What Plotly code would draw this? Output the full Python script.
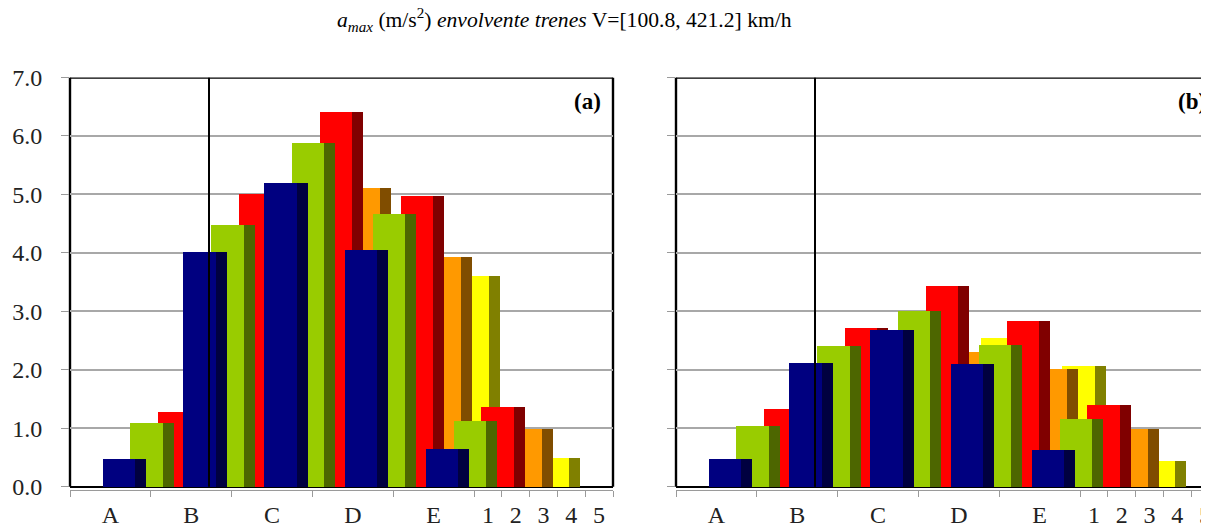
import numpy as np
import plotly.graph_objects as go

# ---------------- data ----------------
categories = ["A", "B", "C", "D", "E"]
series_labels = ["1", "2", "3", "4", "5"]

# panel (a)
a_s1 = [0.48, 4.02, 5.21, 4.06, 0.66]
a_s2 = [1.09, 4.48, 5.88, 4.67, 1.13]
a_s3 = [1.28, 5.02, 6.42, 4.99, 1.38]
a_s4 = [0.95, 3.90, 5.11, 3.93, 1.00]
a_s5 = [0.60, 3.50, 4.40, 3.61, 0.50]

# panel (b)
b_s1 = [0.48, 2.12, 2.69, 2.10, 0.63]
b_s2 = [1.04, 2.41, 3.01, 2.44, 1.17]
b_s3 = [1.34, 2.73, 3.44, 2.84, 1.40]
b_s4 = [1.00, 2.10, 2.31, 2.03, 1.00]
b_s5 = [0.60, 1.90, 2.56, 2.08, 0.44]

y_ticks = [0, 1, 2, 3, 4, 5, 6, 7]

front_colors = ["#000080", "#99CC00", "#FF0000", "#FF9900", "#FFFF00"]
side_colors = ["#000040", "#4D6600", "#800000", "#804D00", "#808000"]

# ---------------- geometry of the pseudo-3D (oblique) projection ----------------
W, H = 1209, 525
OFF = 8                        # default body margin of the page
cat_px = 80.8
depth_px = 27.8
d = depth_px / cat_px          # depth step per series, in category units
gap = 1.5                      # Excel gap width 150%
w = 1.0 / (1.0 + gap)          # front face width
s = d / (1.0 + gap)            # side face (depth) width
n_cat = len(categories)
n_ser = len(series_labels)
x_end_full = n_cat + n_ser * d

px_per_unit_y = 58.46
y_top_px, y0_px = 77.5 - OFF, 486.7 - OFF
axis_drop = 3.2
y_low = -axis_drop / px_per_unit_y   # gray axis line sits a little below the floor

a_left = 70 - OFF
a_right = a_left + x_end_full * cat_px
b_left = 676 - OFF
b_range_end = (W - b_left) / cat_px

ydom = [1 - (y0_px + axis_drop) / H, 1 - y_top_px / H]

fig = go.Figure()

def add_panel(xa, ya, data):
    ci = np.arange(n_cat)
    # back wall left edge (behind the bars)
    fig.add_trace(go.Scatter(x=[n_ser * d, n_ser * d], y=[0, 7], mode="lines",
                             line=dict(color="black", width=2), xaxis=xa, yaxis=ya,
                             showlegend=False, hoverinfo="skip"))
    for j in reversed(range(n_ser)):
        vals = data[j]
        front_left = ci + (1 - w) / 2 + d * j + (d - s) / 2
        fig.add_trace(go.Bar(x=front_left + w + s / 2, y=vals, width=s,
                             marker=dict(color=side_colors[j], line=dict(width=0)),
                             xaxis=xa, yaxis=ya, showlegend=False))
        fig.add_trace(go.Bar(x=front_left + w / 2, y=vals, width=w,
                             marker=dict(color=front_colors[j], line=dict(width=0)),
                             xaxis=xa, yaxis=ya, showlegend=False))

add_panel("x", "y", [a_s1, a_s2, a_s3, a_s4, a_s5])
add_panel("x2", "y2", [b_s1, b_s2, b_s3, b_s4, b_s5])

tickvals_major = [i + 0.5 for i in range(n_cat)] + [n_cat + d * (j + 0.5) for j in range(n_ser)]
ticktext = categories + series_labels
minor_vals = list(range(n_cat + 1)) + [n_cat + d * (k + 1) for k in range(n_ser)]

tickfont = dict(family="Liberation Serif", size=24, color="#222222")

def xaxis_cfg(domain, rng):
    return dict(domain=domain, range=rng, showgrid=False, zeroline=False,
                automargin=False,
                showline=True, linecolor="#9a9a9a", linewidth=1,
                tickmode="array", tickvals=tickvals_major, ticktext=ticktext,
                ticks="", ticklen=0, tickfont=tickfont, ticklabelstandoff=3,
                minor=dict(tickmode="array", tickvals=minor_vals, ticks="outside",
                           ticklen=6, tickcolor="#9a9a9a", tickwidth=1, showgrid=False),
                fixedrange=True)

def yaxis_cfg(anchor, labels):
    return dict(domain=ydom, range=[y_low, 7], anchor=anchor, automargin=False,
                tickmode="array", tickvals=y_ticks,
                ticktext=[f"{v:.1f}" for v in y_ticks],
                showticklabels=labels, ticks="outside", ticklen=8,
                tickcolor="#9a9a9a", tickwidth=1, tickfont=tickfont,
                ticklabelstandoff=14,
                showgrid=True, gridcolor="#a8a8a8", gridwidth=1.5,
                zeroline=True, zerolinecolor="black", zerolinewidth=2.4,
                showline=False, fixedrange=True)

fig.update_layout(
    width=W, height=H, autosize=False,
    margin=dict(l=0, r=0, t=0, b=0, pad=0),
    paper_bgcolor="white", plot_bgcolor="white",
    barmode="overlay", bargap=0,
    showlegend=False,
    xaxis=dict(anchor="y", **xaxis_cfg([a_left / W, a_right / W], [0, x_end_full])),
    yaxis=yaxis_cfg("x", True),
    xaxis2=dict(anchor="y2", **xaxis_cfg([b_left / W, 1.0], [0, b_range_end])),
    yaxis2=yaxis_cfg("x2", False),
)

# frames (walls edges), drawn below the bars
shapes = []
for xr, yr, right in [("x domain", "y", True), ("x2 domain", "y2", False)]:
    line = dict(color="black", width=2.4)
    shapes.append(dict(type="line", xref=xr, yref=yr, x0=0, x1=1, y0=7, y1=7, line=line, layer="below"))
    shapes.append(dict(type="line", xref=xr, yref=yr, x0=0, x1=0, y0=0, y1=7, line=line, layer="below"))
    if right:
        shapes.append(dict(type="line", xref=xr, yref=yr, x0=1, x1=1, y0=0, y1=7, line=line, layer="below"))
fig.update_layout(shapes=shapes)

fig.add_annotation(
    xref="paper", yref="paper", x=(564.5 - OFF) / W, y=1 - (20 - OFF) / H,
    xanchor="center", yanchor="middle",
    text="<i>a</i><sub><i>max</i></sub> (m/s<sup>2</sup>) <i>envolvente trenes</i> V=[100.8, 421.2] km/h",
    showarrow=False, font=dict(family="Liberation Serif", size=21.6, color="black"))
fig.add_annotation(xref="paper", yref="paper", x=(603 - OFF) / W, y=1 - (101 - OFF) / H,
                   xanchor="right", yanchor="middle", text="<b>(a)</b>", showarrow=False,
                   font=dict(family="Liberation Serif", size=23, color="black"))
fig.add_annotation(xref="paper", yref="paper", x=(1208 - OFF) / W, y=1 - (101 - OFF) / H,
                   xanchor="right", yanchor="middle", text="<b>(b)</b>", showarrow=False,
                   font=dict(family="Liberation Serif", size=23, color="black"))

fig.write_html("out.html", config={"displayModeBar": False})
